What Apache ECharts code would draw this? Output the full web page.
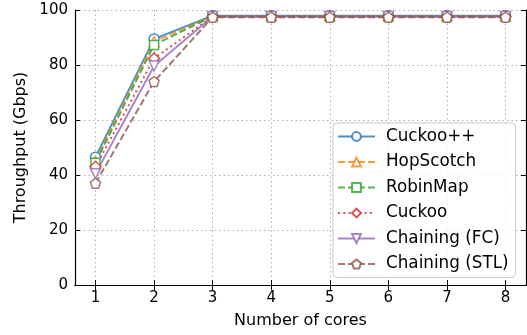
<!DOCTYPE html>
<html><head><meta charset="utf-8">
<script src="https://cdn.jsdelivr.net/npm/echarts@6/dist/echarts.min.js"></script>
<style>html,body{margin:0;padding:0;background:#fff}#c{width:527px;height:335px}</style>
</head><body><div id="c"></div>
<script>
const cores = [1, 2, 3, 4, 5, 6, 7, 8];
const xTicks = [1, 2, 3, 4, 5, 6, 7, 8];
const yTicks = [0, 20, 40, 60, 80, 100];
const cuckooPP    = [46.5, 89.5, 97.9, 97.9, 97.9, 97.9, 97.9, 97.9];
const hopscotch   = [45.0, 88.5, 97.8, 97.8, 97.8, 97.8, 97.8, 97.8];
const robinMap    = [44.5, 87.3, 97.7, 97.7, 97.7, 97.7, 97.7, 97.7];
const cuckoo      = [43.0, 82.4, 97.6, 97.6, 97.6, 97.6, 97.6, 97.6];
const chainingFC  = [40.5, 79.6, 97.6, 97.6, 97.6, 97.6, 97.6, 97.6];
const chainingSTL = [37.0, 74.0, 97.4, 97.4, 97.4, 97.4, 97.4, 97.4];

const FONT = 'DejaVu Sans';
const triDown = 'path://M0,0 L10,0 L5,9 Z';
const pentagon = 'path://M5,0 L10,3.8 L8.1,10 L1.9,10 L0,3.8 Z';

function mk(name, data, color, dash, symbol, size) {
  return {
    name, type: 'line', data: cores.map((c, i) => [c, data[i]]),
    symbol, symbolSize: size, showSymbol: true,
    lineStyle: { color, width: 2, type: dash },
    itemStyle: { color: '#ffffff', borderColor: color, borderWidth: 1.5 },
    emphasis: { disabled: true }, animation: false
  };
}
const C = ['rgba(31,119,180,0.8)','rgba(255,127,14,0.8)','rgba(44,160,44,0.8)','rgba(214,39,40,0.8)','rgba(148,103,189,0.8)','rgba(140,86,75,0.8)'];
const series = [
  mk('Cuckoo++', cuckooPP, C[0], 'solid', 'circle', 10),
  mk('HopScotch', hopscotch, C[1], [7, 3], 'triangle', 10),
  mk('RobinMap', robinMap, C[2], [7, 3], 'rect', 9),
  mk('Cuckoo', cuckoo, C[3], [2, 3.3], 'diamond', 11),
  mk('Chaining (FC)', chainingFC, C[4], 'solid', triDown, 10),
  mk('Chaining (STL)', chainingSTL, C[5], [7, 3], pentagon, 10)
];
const axLine = { show: true, lineStyle: { color: '#000', width: 1.2 } };
const tick = { show: true, inside: true, length: 5, lineStyle: { color: '#000', width: 1 } };
const grid = { show: true, lineStyle: { color: '#b0b0b0', width: 1, type: [1.5, 3] } };
const chart = echarts.init(document.getElementById('c'), null, { renderer: 'canvas' });
chart.setOption({
  animation: false,
  grid: { left: 75, right: 1, top: 10, bottom: 50 },
  legend: {
    orient: 'vertical', left: 333, top: 123,
    padding: [5, 7, 5, 4], itemGap: 8.5, itemWidth: 37, itemHeight: 11,
    backgroundColor: 'rgba(255,255,255,0.8)', borderColor: '#cccccc', borderWidth: 1, borderRadius: 4,
    textStyle: { fontFamily: FONT, fontSize: 16.8, color: '#000', padding: [0, 0, 0, 6] },
    data: series.map(s => s.name)
  },
  xAxis: [
    { type: 'value', min: 0.65, max: 8.35, position: 'bottom',
      name: 'Number of cores', nameLocation: 'middle', nameGap: 28,
      nameTextStyle: { fontFamily: FONT, fontSize: 16, color: '#000' },
      axisLine: axLine, axisTick: { ...tick, customValues: xTicks },
      axisLabel: { customValues: xTicks, fontFamily: FONT, fontSize: 15, color: '#000', margin: 6 },
      splitLine: grid },
    { type: 'value', min: 0.65, max: 8.35, position: 'top',
      axisLine: axLine, axisTick: { ...tick, customValues: xTicks },
      axisLabel: { show: false, customValues: xTicks }, splitLine: { show: false } }
  ],
  yAxis: [
    { type: 'value', min: 0, max: 100, interval: 20, position: 'left',
      name: 'Throughput (Gbps)', nameLocation: 'middle', nameGap: 42,
      nameTextStyle: { fontFamily: FONT, fontSize: 16, color: '#000' },
      axisLine: axLine, axisTick: tick,
      axisLabel: { fontFamily: FONT, fontSize: 15, color: '#000', margin: 7 },
      splitLine: grid },
    { type: 'value', min: 0, max: 100, interval: 20, position: 'right',
      axisLine: axLine, axisTick: tick, axisLabel: { show: false }, splitLine: { show: false } }
  ],
  series
});
</script></body></html>
